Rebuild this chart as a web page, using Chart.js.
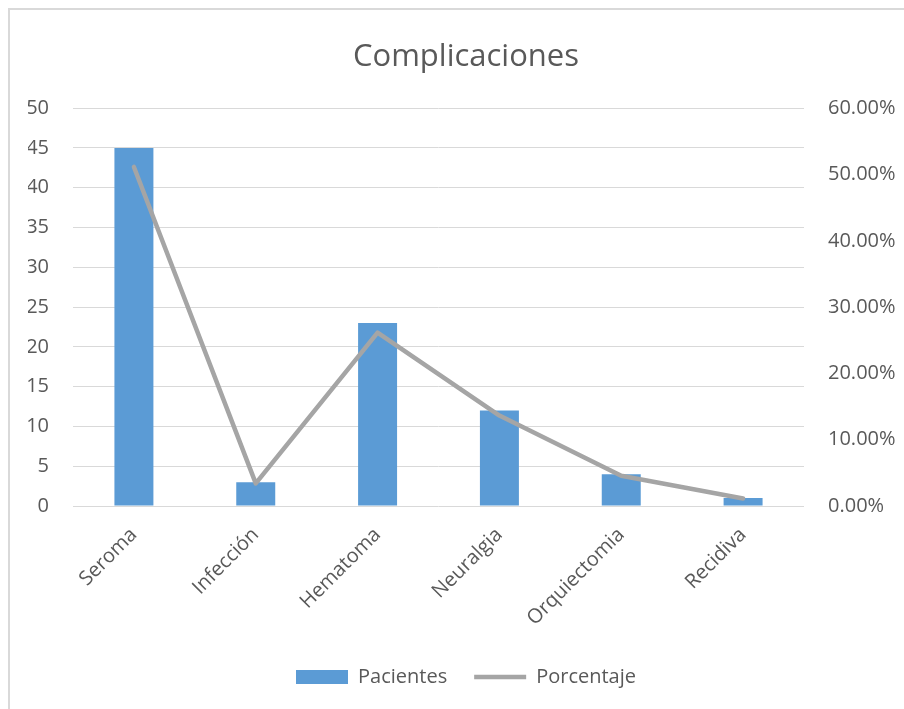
<!DOCTYPE html>
<html>
<head>
<meta charset="utf-8">
<script src="https://cdn.jsdelivr.net/npm/chart.js@4"></script>
<style>
  html, body { margin:0; padding:0; background:#fff; }
  #wrap { position:relative; width:904px; height:709px; overflow:hidden; }
  #frame { position:absolute; left:8px; top:8px; width:1000px; height:1000px; border:2px solid #d9d9d9; box-sizing:border-box; }
  canvas { position:absolute; left:0; top:0; }
</style>
</head>
<body>
<div id="wrap">
  <div id="frame"></div>
  <canvas id="c" width="904" height="709"></canvas>
</div>
<script>
const categories = ['Seroma', 'Infección', 'Hematoma', 'Neuralgia', 'Orquiectomia', 'Recidiva'];
const pacientes = [45, 3, 23, 12, 4, 1];
const porcentaje = [51.14, 3.41, 26.14, 13.64, 4.55, 1.14];
const leftTicks = { min: 0, max: 50, step: 5 };
const rightTicks = { min: 0, max: 60, step: 10 };
const chartTitle = 'Complicaciones';

const FONT = "'Open Sans', sans-serif";
const TXT = '#595959';

new Chart(document.getElementById('c'), {
  data: {
    labels: categories,
    datasets: [
      {
        type: 'bar',
        label: 'Pacientes',
        data: pacientes,
        backgroundColor: '#5B9BD5',
        borderWidth: 0,
        yAxisID: 'y',
        order: 1,
        categoryPercentage: 1,
        barPercentage: 0.32,
        pointStyle: 'rect'
      },
      {
        type: 'line',
        label: 'Porcentaje',
        data: porcentaje,
        borderColor: '#A5A5A5',
        backgroundColor: '#A5A5A5',
        borderWidth: 4.5,
        borderCapStyle: 'round',
        borderJoinStyle: 'round',
        pointRadius: 0,
        pointHoverRadius: 0,
        pointStyle: 'line',
        tension: 0,
        yAxisID: 'y1',
        order: 0
      }
    ]
  },
  options: {
    responsive: false,
    animation: false,
    devicePixelRatio: 1,
    layout: { padding: { left: 28, right: 0, top: 0, bottom: 12 } },
    plugins: {
      tooltip: { enabled: false },
      title: {
        display: true,
        text: chartTitle,
        color: TXT,
        font: { family: FONT, size: 31, weight: 'normal' },
        padding: { top: 39, bottom: 32 }
      },
      legend: {
        position: 'bottom',
        labels: {
          color: TXT,
          font: { family: FONT, size: 20 },
          usePointStyle: true,
          pointStyleWidth: 52,
          boxHeight: 14,
          padding: 27,
          sort: (a, b) => a.datasetIndex - b.datasetIndex
        }
      }
    },
    scales: {
      x: {
        grid: { display: false, drawTicks: false },
        border: { display: false },
        ticks: {
          color: TXT,
          font: { family: FONT, size: 20 },
          minRotation: 45,
          maxRotation: 45,
          autoSkip: false,
          padding: 17
        },
        afterFit: (s) => { s.height = 134; }
      },
      y: {
        position: 'left',
        min: leftTicks.min,
        max: leftTicks.max,
        grid: { color: '#d9d9d9', lineWidth: 1, drawTicks: false },
        border: { display: false },
        ticks: {
          stepSize: leftTicks.step,
          color: TXT,
          font: { family: FONT, size: 20 },
          padding: 24
        },
        afterFit: (s) => { s.width = 45; }
      },
      y1: {
        position: 'right',
        min: rightTicks.min,
        max: rightTicks.max,
        grid: { display: false, drawTicks: false },
        border: { display: false },
        ticks: {
          stepSize: rightTicks.step,
          color: TXT,
          font: { family: FONT, size: 20 },
          padding: 24,
          callback: (v) => Number(v).toFixed(2) + '%'
        },
        afterFit: (s) => { s.width = 100; }
      }
    }
  }
});
</script>
</body>
</html>
